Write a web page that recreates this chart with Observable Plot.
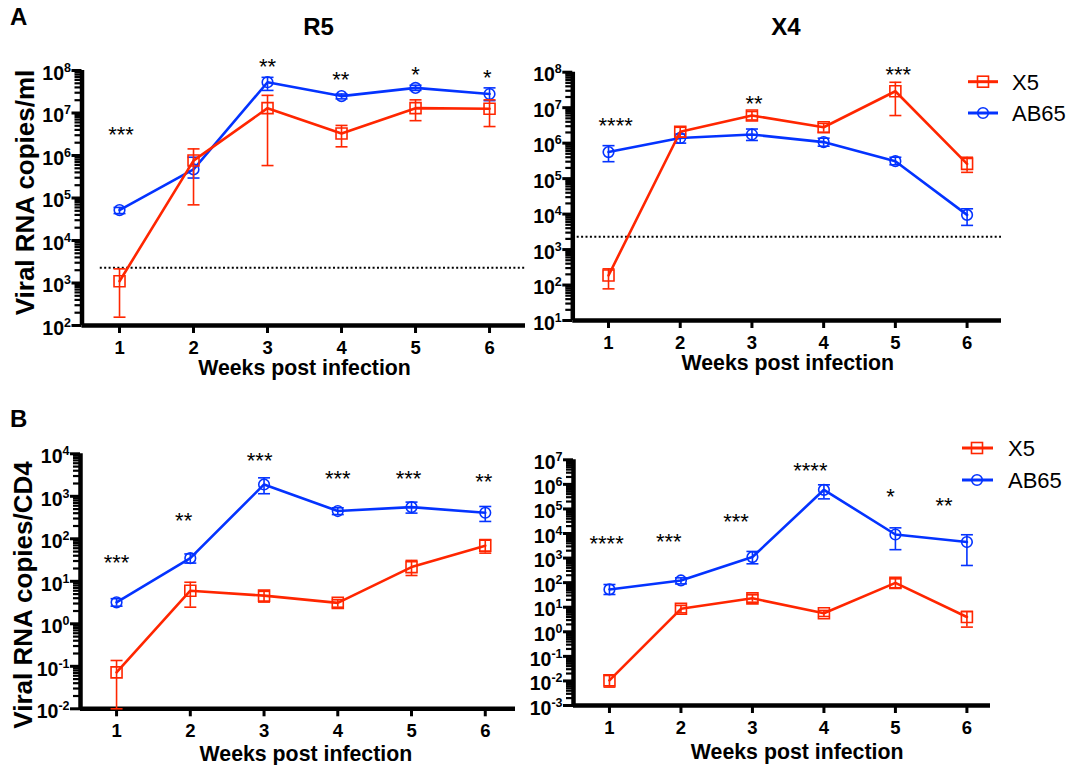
<!DOCTYPE html>
<html>
<head>
<meta charset="utf-8">
<script src="https://cdn.jsdelivr.net/npm/d3@7"></script>
<script src="https://cdn.jsdelivr.net/npm/@observablehq/plot@0.6"></script>
<style>
  html, body { margin: 0; padding: 0; background: #fff; }
  #root { position: relative; width: 1067px; height: 765px; overflow: hidden; background: #fff;
          font-family: "Liberation Sans", Arial, Helvetica, sans-serif; }
  .panel { position: absolute; }
  #overlay { position: absolute; left: 0; top: 0; pointer-events: none; }
  .xtl text { font-size: 18.5px !important; font-weight: bold !important; }
  .ytl text { font-size: 19.5px !important; font-weight: bold !important; }
  .ytl text tspan.sup { font-size: 12.5px !important; }
</style>
</head>
<body>
<div id="root"></div>
<script>
// ---------------- data ----------------
const weeks = [1, 2, 3, 4, 5, 6];
const seriesNames = ["X5", "AB65"];
const xTitle = "Weeks post infection";
const yTitleA = "Viral RNA copies/ml";
const yTitleB = "Viral RNA copies/CD4";
const panelLetters = ["A", "B"];
const panelTitles = ["R5", "X4"];

// Panel A, R5 (copies/ml)
const r5X5   = [1.1e3, 7.6e5, 1.3e7, 3.3e6, 1.3e7, 1.26e7];
const r5X5Lo = [1.57e2, 6.9e4, 5.8e5, 1.6e6, 6.6e6, 4.8e6];
const r5X5Hi = [2.15e3, 1.43e6, 2.6e7, 5.1e6, 2.04e7, 2.04e7];
const r5AB   = [5.2e4, 4.7e5, 5.3e7, 2.5e7, 3.9e7, 2.8e7];
const r5ABLo = [4.3e4, 2.95e5, 3.4e7, 2.15e7, 3.4e7, 1.95e7];
const r5ABHi = [6.0e4, 9.1e5, 6.9e7, 2.8e7, 4.5e7, 3.9e7];
const r5StarText = ["***", "**", "**", "*", "*"];
const r5StarWeek = [1.02, 3.0, 3.99, 5.0, 5.97];
const r5StarY    = [4.3e6, 1.7e8, 8.3e7, 1.1e8, 9.1e7];
const r5Lod = 2300;

// Panel A, X4 (copies/ml)
const x4X5   = [186, 2.1e6, 6.0e6, 2.8e6, 2.9e7, 2.6e5];
const x4X5Lo = [78, 1.48e6, 4.5e6, 2.04e6, 6.0e6, 1.5e5];
const x4X5Hi = [286, 2.8e6, 7.8e6, 3.6e6, 5.2e7, 4.0e5];
const x4AB   = [5.6e5, 1.4e6, 1.75e6, 1.07e6, 3.1e5, 9.5e3];
const x4ABLo = [3.0e5, 1.0e6, 1.19e6, 8.2e5, 2.45e5, 4.8e3];
const x4ABHi = [8.5e5, 1.8e6, 2.5e6, 1.38e6, 4.0e5, 1.41e4];
const x4StarText = ["****", "**", "***"];
const x4StarWeek = [1.1, 3.03, 5.04];
const x4StarY    = [4.6e6, 1.9e7, 1.26e8];
const x4Lod = 2300;

// Panel B, R5 (copies/CD4)
const bR5X5   = [0.072, 6.0, 4.6, 3.1, 21.6, 69];
const bR5X5Lo = [0.01, 2.46, 3.24, 2.46, 13.7, 46];
const bR5X5Hi = [0.137, 9.5, 5.8, 3.67, 31, 96];
const bR5AB   = [3.2, 35, 1900, 450, 556, 410];
const bR5ABLo = [2.6, 26.8, 1150, 372, 402, 256];
const bR5ABHi = [3.9, 44, 2720, 537, 730, 576];
const bR5StarText = ["***", "**", "***", "***", "***", "**"];
const bR5StarWeek = [1.0, 1.91, 2.94, 4.0, 4.96, 5.98];
const bR5StarY    = [37, 355, 9600, 3500, 3500, 2950];

// Panel B, X4 (copies/CD4)
const bX4X5   = [0.0105, 8.6, 23, 5.7, 98, 4.0];
const bX4X5Lo = [0.0056, 5.9, 16, 4.2, 62, 1.55];
const bX4X5Hi = [0.0166, 11.8, 32, 7.4, 143, 6.7];
const bX4AB   = [53, 123, 1100, 6.0e5, 9.1e3, 4.5e3];
const bX4ABLo = [33, 89, 585, 2.57e5, 2.2e3, 500];
const bX4ABHi = [84, 157, 1860, 9.6e5, 1.7e4, 8.9e3];
const bX4StarText = ["****", "***", "***", "****", "*", "**"];
const bX4StarWeek = [0.96, 1.83, 2.77, 3.81, 4.93, 5.68];
const bX4StarY    = [6.7e3, 7.6e3, 5.4e4, 5.9e6, 5.6e5, 2.4e5];

// ---------------- styling ----------------
const RED = "#ff2600";
const BLUE = "#0433ff";
const FONT = '"Liberation Sans", Arial, Helvetica, sans-serif';

const capSymbol = {
  draw(context, size) {
    const r = Math.sqrt(size / Math.PI);
    context.moveTo(-r, 0);
    context.lineTo(r, 0);
  }
};

function rows(mean, lo, hi) {
  return weeks.map((w, i) => ({week: w, v: mean[i], lo: lo[i], hi: hi[i]}));
}
function starRows(text, wk, y) {
  return text.map((t, i) => ({t, week: wk[i], y: y[i]}));
}
function decadeTicks(lo, hi) {
  const major = [], minor = [];
  const e0 = Math.round(Math.log10(lo)), e1 = Math.round(Math.log10(hi));
  for (let e = e0; e <= e1; e++) {
    major.push(Math.pow(10, e));
    if (e < e1) for (let k = 2; k <= 9; k++) minor.push(k * Math.pow(10, e));
  }
  return {major, minor};
}

const panels = [
  {left: 0, top: 0, width: 530, height: 390, mL: 81.5, mR: 5, mT: 70, mB: 65,
   xDom: [0.493, 6.486], yDom: [1e2, 1e8],
   x5: rows(r5X5, r5X5Lo, r5X5Hi), ab: rows(r5AB, r5ABLo, r5ABHi),
   stars: starRows(r5StarText, r5StarWeek, r5StarY), lod: r5Lod, lodX1: 0.74, titleDy: 43, titleDx: 0},
  {left: 530, top: 0, width: 537, height: 390, mL: 42.3, mR: 66, mT: 71.7, mB: 70,
   xDom: [0.502, 6.48], yDom: [1e1, 1e8],
   x5: rows(x4X5, x4X5Lo, x4X5Hi), ab: rows(x4AB, x4ABLo, x4ABHi),
   stars: starRows(x4StarText, x4StarWeek, x4StarY), lod: x4Lod, lodX1: 0.502, titleDy: 43, titleDx: 0},
  {left: 0, top: 390, width: 530, height: 375, mL: 80, mR: 15, mT: 63.3, mB: 56.7,
   xDom: [0.511, 6.41], yDom: [1e-2, 1e4],
   x5: rows(bR5X5, bR5X5Lo, bR5X5Hi), ab: rows(bR5AB, bR5ABLo, bR5ABHi),
   stars: starRows(bR5StarText, bR5StarWeek, bR5StarY), lod: null, titleDy: 45, titleDx: 5},
  {left: 530, top: 390, width: 537, height: 375, mL: 43, mR: 77, mT: 69.3, mB: 60,
   xDom: [0.497, 6.33], yDom: [1e-3, 1e7],
   x5: rows(bX4X5, bX4X5Lo, bX4X5Hi), ab: rows(bX4AB, bX4ABLo, bX4ABHi),
   stars: starRows(bX4StarText, bX4StarWeek, bX4StarY), lod: null, titleDy: 47, titleDx: 9}
];

function seriesMarks(data, color, symbol, r) {
  return [
    Plot.line(data, {x: "week", y: "v", stroke: color, strokeWidth: 2.6}),
    Plot.ruleX(data, {x: "week", y1: "lo", y2: "hi", stroke: color, strokeWidth: 1.6}),
    Plot.dot(data, {x: "week", y: "lo", symbol: capSymbol, r: 6, stroke: color, strokeWidth: 1.6}),
    Plot.dot(data, {x: "week", y: "hi", symbol: capSymbol, r: 6, stroke: color, strokeWidth: 1.6}),
    Plot.dot(data, {x: "week", y: "v", symbol, r, stroke: color, strokeWidth: 1.6, fill: "none"})
  ];
}

function makePanel(p) {
  const {major, minor} = decadeTicks(p.yDom[0], p.yDom[1]);
  const marks = [
    Plot.axisY({ticks: minor, tickSize: 7, tickPadding: 0, strokeWidth: 2.2, tickFormat: () => "", label: null}),
    Plot.axisY({ticks: major, tickSize: 10, tickPadding: 1, strokeWidth: 3, label: null,
                tickFormat: d => "10^" + Math.round(Math.log10(d))}),
    Plot.axisX({ticks: weeks, tickSize: 8, tickPadding: 7, strokeWidth: 3, label: null,
                tickFormat: d => String(d)}),
    Plot.ruleX([p.xDom[0]], {stroke: "black", strokeWidth: 4.5}),
    Plot.ruleY([p.yDom[0]], {x1: p.xDom[0], x2: p.xDom[1], stroke: "black", strokeWidth: 4.5}),
  ];
  if (p.lod != null) {
    marks.push(Plot.ruleY([p.lod], {x1: p.lodX1, x2: p.xDom[1], stroke: "black", strokeWidth: 2, strokeDasharray: "2,2.4"}));
  }
  marks.push(...seriesMarks(p.ab, BLUE, "circle", 5.3));
  marks.push(...seriesMarks(p.x5, RED, "square", 6.2));
  marks.push(Plot.text(p.stars, {x: "week", y: "y", text: "t", fontSize: 22, fontWeight: "normal", dy: 6, fill: "black"}));
  marks.push(Plot.text([xTitle], {x: () => 3.5, frameAnchor: "bottom", lineAnchor: "middle", text: d => d,
                                   dy: p.titleDy, dx: p.titleDx,
                                   fontSize: 21.3, fontWeight: "bold", fill: "black"}));
  const svg = Plot.plot({
    width: p.width, height: p.height,
    marginLeft: p.mL, marginRight: p.mR, marginTop: p.mT, marginBottom: p.mB,
    style: {background: "transparent", fontFamily: FONT, color: "black", overflow: "visible"},
    x: {type: "linear", domain: p.xDom, axis: null, label: null},
    y: {type: "log", domain: p.yDom, axis: null, label: null},
    marks
  });
  const s = d3.select(svg);
  s.selectAll('g[aria-label="x-axis tick label"]').classed("xtl", true);
  s.selectAll('g[aria-label="y-axis tick label"]').classed("ytl", true);
  s.selectAll('g[aria-label="x-axis tick label"] text')
    .style("font-size", "18.5px").style("font-weight", "bold");
  // superscript exponents on y tick labels
  s.selectAll('g[aria-label="y-axis tick label"] text').each(function() {
    const m = /^10\^(-?\d+)$/.exec(this.textContent);
    if (!m) return;
    const sel = d3.select(this);
    sel.style("font-size", "19.5px").style("font-weight", "bold");
    sel.text(null);
    sel.append("tspan").attr("dy", "3").text("10");
    sel.append("tspan").attr("class", "sup").attr("dy", "-8").style("font-size", "12.5px").text(m[1]);
  });
  const div = document.createElement("div");
  div.className = "panel";
  div.style.left = p.left + "px";
  div.style.top = p.top + "px";
  div.appendChild(svg);
  return div;
}

const root = document.getElementById("root");
panels.forEach(p => root.appendChild(makePanel(p)));

// ---------------- overlay: panel letters, titles, y titles, legends ----------------
const ov = d3.select(root).append("svg").attr("id", "overlay")
  .attr("width", 1067).attr("height", 765)
  .style("font-family", FONT);

ov.append("text").attr("x", 10).attr("y", 25).attr("font-size", 24).attr("font-weight", "bold").text(panelLetters[0]);
ov.append("text").attr("x", 10).attr("y", 427).attr("font-size", 24).attr("font-weight", "bold").text(panelLetters[1]);
ov.append("text").attr("x", 318.5).attr("y", 35).attr("text-anchor", "middle").attr("font-size", 24).attr("font-weight", "bold").text(panelTitles[0]);
ov.append("text").attr("x", 786).attr("y", 35).attr("text-anchor", "middle").attr("font-size", 24).attr("font-weight", "bold").text(panelTitles[1]);

ov.append("text").attr("transform", "translate(34,192.5) rotate(-90)").attr("text-anchor", "middle")
  .attr("font-size", 26).attr("font-weight", "bold").text(yTitleA);
ov.append("text").attr("transform", "translate(32,595) rotate(-90)").attr("text-anchor", "middle")
  .attr("font-size", 26).attr("font-weight", "bold").text(yTitleB);

function legend(x0, x1, xm, xt, ys) {
  const colors = [RED, BLUE];
  ys.forEach((y, i) => {
    ov.append("line").attr("x1", x0).attr("x2", x1).attr("y1", y).attr("y2", y)
      .attr("stroke", colors[i]).attr("stroke-width", 3);
    if (i === 0) {
      ov.append("rect").attr("x", xm - 5.5).attr("y", y - 5.5).attr("width", 11).attr("height", 11)
        .attr("fill", "none").attr("stroke", colors[i]).attr("stroke-width", 1.6);
    } else {
      ov.append("circle").attr("cx", xm).attr("cy", y).attr("r", 5.3)
        .attr("fill", "none").attr("stroke", colors[i]).attr("stroke-width", 1.6);
    }
    ov.append("text").attr("x", xt).attr("y", y + 8).attr("font-size", 22).text(seriesNames[i]);
  });
}
legend(968, 998, 983, 1012, [81.7, 113]);
legend(962, 993, 977, 1008, [448, 480]);
</script>
</body>
</html>
